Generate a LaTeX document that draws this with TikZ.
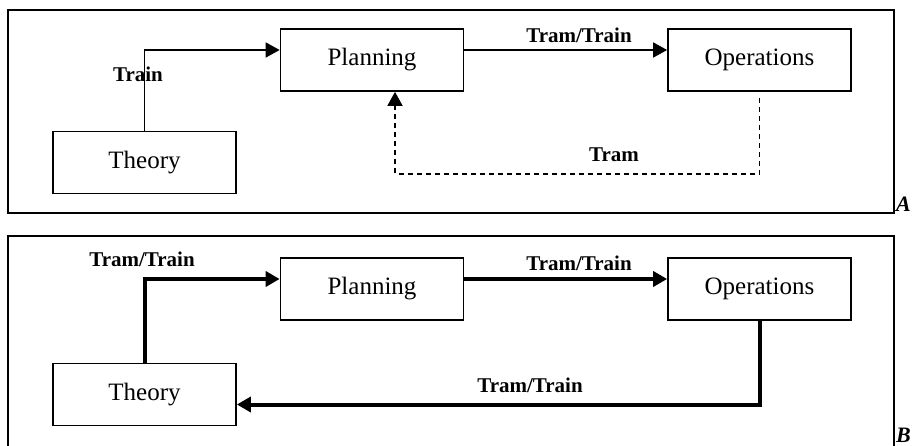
\documentclass[tikz,border=0pt]{standalone}
\usepackage{fontspec}
\setmainfont{Liberation Serif}
\usetikzlibrary{arrows.meta}
\begin{document}
\begin{tikzpicture}[x=1pt,y=-1pt,
  box/.style={draw, line width=1.7pt, minimum width=183pt, minimum height=62pt, inner sep=0pt, font=\fontsize{25}{30}\selectfont},
  frame/.style={line width=1.7pt},
  thinarr/.style={line width=1.6pt, -{Triangle[length=14pt,width=15pt]}},
  thickarr/.style={line width=4pt, -{Triangle[length=14pt,width=15pt]}},
  dasharr/.style={line width=1.6pt, dash pattern=on 5pt off 4pt, -{Triangle[length=14pt,width=15pt]}},
  lbl/.style={font=\fontsize{21}{24}\selectfont\bfseries, inner sep=0pt},
  panel/.style={font=\fontsize{22}{24}\selectfont\bfseries\itshape, inner sep=0pt, anchor=base west}
]
\useasboundingbox (0,0) rectangle (912,446);
% Panel A
\draw[frame] (8,10) rectangle (894,213);
\node[box] (tA) at (144.5,162.5) {Theory};
\node[box] (pA) at (372,60) {Planning};
\node[box] (oA) at (759.5,60) {Operations};
\draw[thinarr] (tA.north) |- ([yshift=10pt]pA.west);
\draw[thinarr] ([yshift=10pt]pA.east) -- ([yshift=10pt]oA.west);
\draw[dasharr] ([yshift=-6pt]oA.south) -- ++(0,76) -| ([xshift=23pt]pA.south);
\node[lbl] (lA1) at (138,74) {Train};
\node[lbl] (lA2) at (579,35) {Tram/Train};
\node[lbl] (lA3) at (614,155) {Tram};
\node[panel] (nA) at (896,212) {A};
% Panel B
\draw[frame] (8,460) -- (8,236) -- (894,236) -- (894,460);
\node[box] (tB) at (144.5,394.5) {Theory};
\node[box] (pB) at (372,289) {Planning};
\node[box] (oB) at (759.5,289) {Operations};
\draw[thickarr] (tB.north) |- ([yshift=10pt]pB.west);
\draw[thickarr] ([yshift=10pt]pB.east) -- ([yshift=10pt]oB.west);
\draw[thickarr] (oB.south) |- ([yshift=-10pt]tB.east);
\node[lbl] (lB1) at (142,259) {Tram/Train};
\node[lbl] (lB2) at (579,263) {Tram/Train};
\node[lbl] (lB3) at (530,385) {Tram/Train};
\node[panel] (nB) at (896,442) {B};
\end{tikzpicture}
\end{document}
